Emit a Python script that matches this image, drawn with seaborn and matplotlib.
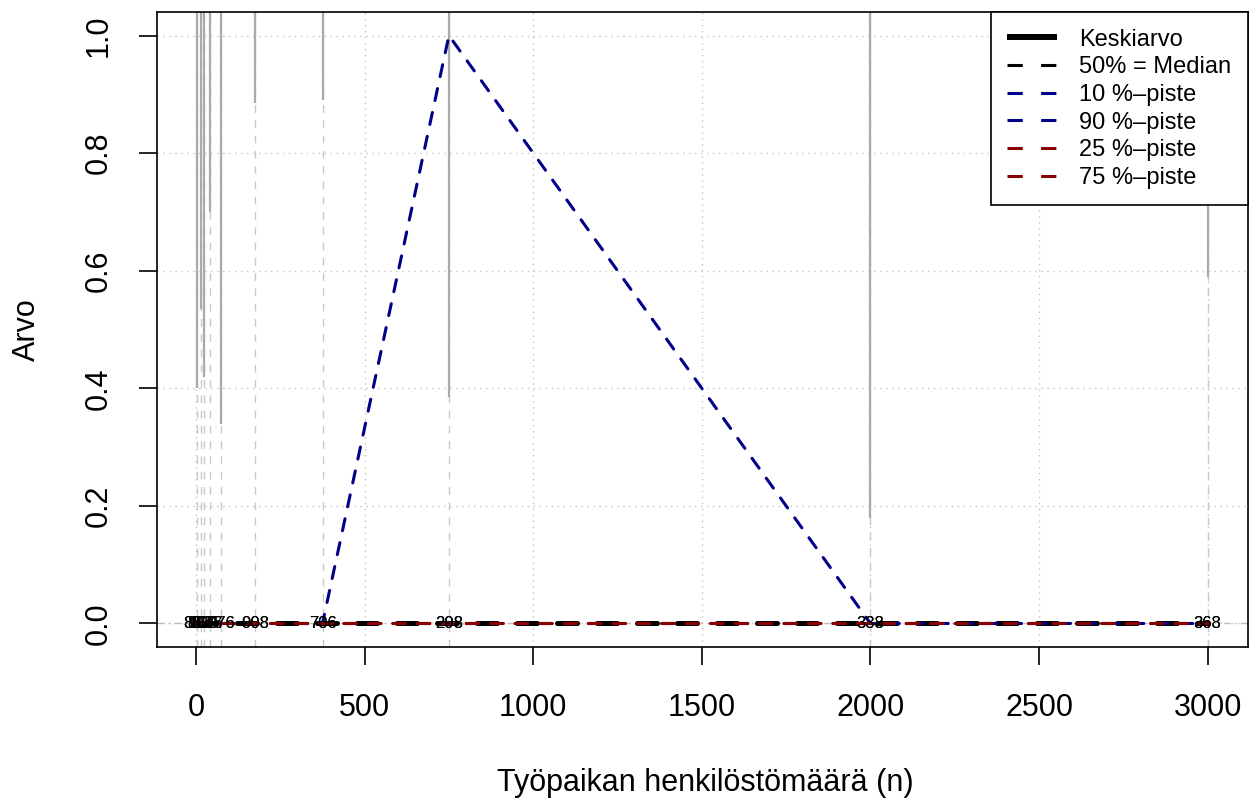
import numpy as np
import matplotlib
matplotlib.use("Agg")
import matplotlib.pyplot as plt
from matplotlib.lines import Line2D
import seaborn as sns

# henkilöstömäärä (x) ja tunnusluvut
henkilosto = [4, 14, 25, 40, 75, 175, 375, 750, 2000, 3000]
keskiarvo = [np.nan] * 10
mediaani = [0, 0, 0, 0, 0, 0, 0, 0, 0, 0]
p10 = [0, 0, 0, 0, 0, 0, 0, 0, 0, 0]
p90 = [0, 0, 0, 0, 0, 0, 0, 1.0, 0, 0]
p25 = [0, 0, 0, 0, 0, 0, 0, 0, 0, 0]
p75 = [0, 0, 0, 0, 0, 0, 0, 0, 0, 0]
# harmaat pystyjanat: alapaa (ylhaalta alas)
osuus = [0.40, 0.535, 0.42, 0.70, 0.34, 0.885, 0.89, 0.385, 0.18, 0.59]
# havaintomaarat (kaksi paallekkaista tekstia)
n_teksti_a = ["863", "837", "850", "857", "576", "908", "706", "208", "333", "363"]
n_teksti_b = ["880", "857", "834", "846", "576", "908", "736", "298", "338", "368"]

legend_labels = ["Keskiarvo", "50% = Median", "10 %\u2013piste", "90 %\u2013piste",
                 "25 %\u2013piste", "75 %\u2013piste"]

sns.set_theme(style="white")
plt.rcParams['font.family'] = ['Liberation Sans', 'DejaVu Sans']
plt.rcParams['text.color'] = 'black'
plt.rcParams['axes.labelcolor'] = 'black'
plt.rcParams['xtick.color'] = 'black'
plt.rcParams['ytick.color'] = 'black'

fig = plt.figure(figsize=(12.52, 8.01), dpi=100)
ax = fig.add_axes([157 / 1252, 1 - 647 / 801, 1091 / 1252, 635 / 801])

xmin, xmax = min(henkilosto), max(henkilosto)
xr = xmax - xmin
ax.set_xlim(xmin - 0.04 * xr, xmax + 0.04 * xr)
ymin, ymax = -0.04, 1.04
ax.set_ylim(ymin, ymax)

# grid (dotted)
for gx in range(0, 3001, 500):
    ax.axvline(gx, color="#C4C4C4", lw=1, linestyle=(0, (1, 3.3)), zorder=1)
for gy in np.arange(0, 1.01, 0.2):
    ax.axhline(gy, color="#C4C4C4", lw=1, linestyle=(0, (1, 3.3)), zorder=1)
ax.axhline(0, color="#BEBEBE", lw=1, linestyle=(0, (5, 3, 1, 3)), zorder=1)

# harmaat pystyviivat
for xv, yv in zip(henkilosto, osuus):
    ax.axvline(xv, color="#C8C8C8", lw=1, linestyle=(0, (5.5, 5.5)), zorder=2)
    ax.vlines(xv, yv, ymax, color="#AAAAAA", lw=1.6, zorder=2)

series = [
    (keskiarvo, "black", 4.3, "-"),
    (mediaani, "black", 3.6, (0, (4, 4))),
    (p10, "#00008B", 2.2, (0, (4, 4))),
    (p90, "#00008B", 2.2, (0, (4, 4))),
    (p25, "#8B0000", 2.2, (0, (4, 4))),
    (p75, "#8B0000", 2.2, (0, (4, 4))),
]
for vals, col, lw, ls in series:
    if np.all(np.isnan(vals)):
        ax.plot(henkilosto, vals, color=col, lw=lw, linestyle=ls)
        continue
    sns.lineplot(x=henkilosto, y=vals, ax=ax, color=col, lw=lw, linestyle=ls,
                 errorbar=None, sort=False, dash_capstyle="round", zorder=3)

for xv, ta, tb in zip(henkilosto, n_teksti_a, n_teksti_b):
    ax.text(xv, 0, ta, ha="center", va="center", fontsize=12, zorder=4)
    ax.text(xv, 0, tb, ha="center", va="center", fontsize=12, zorder=4)

ax.set_xticks(range(0, 3001, 500))
ax.set_yticks([0, 0.2, 0.4, 0.6, 0.8, 1.0])
ax.set_yticklabels(["0.0", "0.2", "0.4", "0.6", "0.8", "1.0"], rotation=90, va="center")
ax.tick_params(axis="x", pad=20)
ax.tick_params(axis="y", pad=18)
ax.tick_params(axis="both", direction="out", length=13, width=1.2, labelsize=22,
               color="black", labelcolor="black", bottom=True, left=True)

for sp in ax.spines.values():
    sp.set_color("black")
    sp.set_linewidth(1.2)

ax.set_xlabel("Työpaikan henkilöstömäärä (n)", fontsize=22)
ax.set_ylabel("Arvo", fontsize=22)
ax.xaxis.set_label_coords((705 - 157) / 1091, (647 - 783) / 635)
ax.xaxis.label.set_va("center")
ax.yaxis.set_label_coords((27 - 157) / 1091, (647 - 330) / 635)
ax.yaxis.label.set_va("center")

leg_ls = (0, (5, 6))
handles = [
    Line2D([], [], color="black", lw=4.3, solid_capstyle="butt"),
    Line2D([], [], color="black", lw=2.2, linestyle=leg_ls, dash_capstyle="butt"),
    Line2D([], [], color="#00008B", lw=2.2, linestyle=leg_ls, dash_capstyle="butt"),
    Line2D([], [], color="#00008B", lw=2.2, linestyle=leg_ls, dash_capstyle="butt"),
    Line2D([], [], color="#8B0000", lw=2.2, linestyle=leg_ls, dash_capstyle="butt"),
    Line2D([], [], color="#8B0000", lw=2.2, linestyle=leg_ls, dash_capstyle="butt"),
]
leg = ax.legend(handles, legend_labels, loc="upper right", borderaxespad=0,
                fontsize=17, frameon=True, fancybox=False, framealpha=1,
                edgecolor="black", handlelength=2.1, handletextpad=0.95,
                labelspacing=0.24, borderpad=0.7)
leg.get_frame().set_linewidth(1.2)

fig.savefig("out.png", dpi=100)
